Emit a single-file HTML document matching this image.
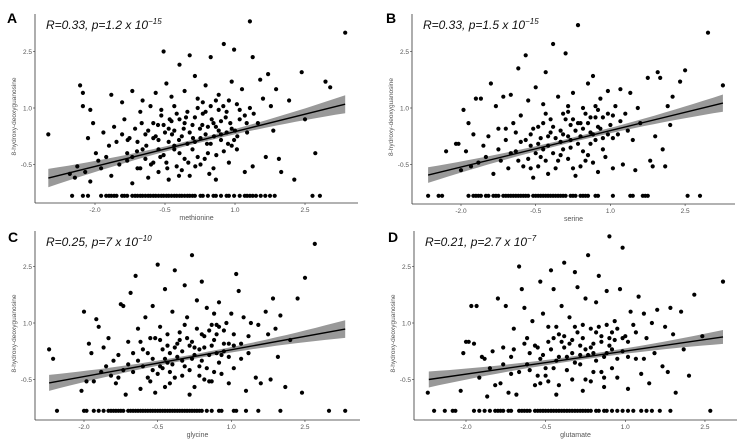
<!DOCTYPE html>
<html><head><meta charset="utf-8">
<style>
html,body{margin:0;padding:0;background:#fff;}
svg{display:block;font-family:"Liberation Sans",sans-serif;}
</style></head>
<body>
<svg id="fig" width="750" height="442" viewBox="0 0 750 442" xmlns="http://www.w3.org/2000/svg"></svg>
<script>
const xTicks = [-2.0, -0.5, 1.0, 2.5];
const yTicks = [2.5, 1.0, -0.5];
const zeroY = -1.33;

const labelsA = {letter:"A", xvar:"methionine", r:"0.33", p:"1.2", exp:"−15"};
const labelsB = {letter:"B", xvar:"serine", r:"0.33", p:"1.5", exp:"−15"};
const labelsC = {letter:"C", xvar:"glycine", r:"0.25", p:"7", exp:"−10"};
const labelsD = {letter:"D", xvar:"glutamate", r:"0.21", p:"2.7", exp:"−7"};

const fitA = [[-3.0,-0.86],[3.36,1.1]];
const fitB = [[-2.66,-0.78],[3.26,1.13]];
const fitC = [[-2.71,-0.59],[3.32,0.84]];
const fitD = [[-2.7,-0.5],[2.84,0.63]];

const pointsA = [[-3.0,0.3],[-2.54,-0.75],[-2.43,-0.85],[-2.38,-0.55],[-2.32,1.6],[-2.26,1.4],[-2.26,1.05],[-2.21,-0.7],[-2.15,0.2],[-2.1,0.95],[-2.1,-0.95],[-2.04,0.6],[-1.98,-0.2],[-1.93,-0.4],[-1.87,-0.6],[-1.82,0.35],[-1.76,-0.3],[-1.7,0.0],[-1.65,1.35],[-1.65,-0.8],[-1.59,0.5],[-1.54,0.1],[-1.48,-0.5],[-1.42,1.15],[-1.37,0.7],[-1.31,-0.2],[-1.26,0.2],[-1.2,1.45],[-1.2,-1.0],[-1.14,0.45],[-1.09,-0.6],[-1.03,0.9],[-0.98,1.2],[-0.98,-0.1],[-0.92,0.3],[-0.86,-0.85],[-0.81,1.05],[-0.75,0.6],[-0.75,-0.45],[-0.7,1.4],[-0.64,0.15],[-0.64,-0.7],[-0.58,0.8],[-0.53,2.5],[-0.53,-0.25],[-0.47,1.65],[-0.42,0.45],[-0.42,-0.9],[-0.36,1.3],[-0.3,0.0],[-0.3,1.05],[-0.25,-0.55],[-0.19,2.15],[-0.19,0.7],[-0.14,0.25],[-0.08,1.45],[-0.08,-0.35],[-0.02,0.9],[0.03,2.4],[0.03,-0.8],[0.09,0.55],[0.14,1.85],[0.14,0.1],[0.2,1.25],[0.26,-0.5],[0.31,0.85],[0.37,1.6],[0.37,0.3],[0.42,-0.2],[0.48,1.05],[0.48,2.35],[0.54,0.6],[0.59,-0.9],[0.65,1.35],[0.7,0.15],[0.76,2.7],[0.82,0.9],[0.87,-0.45],[0.93,1.7],[0.93,0.45],[0.98,2.55],[1.04,1.1],[1.04,-0.1],[1.1,0.7],[1.32,3.3],[1.15,1.5],[1.21,-0.7],[1.26,0.35],[1.32,1.0],[1.38,2.35],[1.38,-0.55],[1.49,0.6],[1.54,1.75],[1.6,1.25],[1.66,-0.3],[1.71,1.9],[1.77,1.05],[1.82,0.4],[1.88,1.5],[1.94,-0.35],[1.99,-0.7],[2.16,1.2],[2.27,-0.9],[2.43,1.95],[2.5,0.7],[3.04,1.55],[2.72,-0.2],[2.94,1.7],[3.36,3.0],
[-0.75,0.2],[-0.53,0.55],[-0.3,0.4],[-0.08,0.6],[0.14,0.75],[0.37,0.9],[0.59,0.5],[0.82,0.35],[-0.64,-0.1],[-0.42,0.1],[-0.19,-0.2],[0.03,0.35],[0.26,0.2],[0.48,0.05],[0.7,0.65],[-0.86,0.4],[-1.09,0.1],[-1.31,-0.4],[0.2,-0.3],[0.42,0.5],[0.65,0.95],[0.87,1.2],[-0.25,0.85],[-0.47,-0.45],[-0.92,-0.35],[-0.02,0.05],[0.54,-0.6],[0.98,0.15],[1.21,0.8],[-0.58,0.95],[-0.14,-0.65],[0.31,1.15],[0.76,-0.15],[-1.03,-0.6],[-1.42,0.3],[-1.2,-0.3],[0.09,-0.1],[0.59,1.2],[-0.36,0.65],[0.93,0.0],
[-0.9,0.0],[-0.7,0.25],[-0.5,0.35],[-0.3,-0.1],[-0.1,0.45],[0.1,0.2],[0.3,0.55],[0.5,0.7],[0.7,0.3],[0.9,0.6],[1.1,0.95],[-0.6,-0.3],[-0.4,0.7],[-0.2,0.15],[0.0,-0.45],[0.2,1.0],[0.4,0.05],[0.6,-0.25],[0.8,0.75],[1.0,0.4],[-1.0,0.6],[-0.8,-0.5],[-0.45,-0.6],[-0.05,0.75],[0.25,0.45],[0.55,0.25],[0.85,0.05],[1.25,0.6],[-1.3,0.15],[-0.2,-0.8],[0.45,-0.75],[0.75,1.05],[1.05,0.25],[-0.65,0.55],[0.15,-0.55],[-0.35,0.3],[0.65,0.4],[1.4,0.85],[-1.1,-0.15],[0.35,-0.35]];
const zerosA = [-2.49,-2.26,-2.15,-1.87,-1.76,-1.7,-1.65,-1.59,-1.54,-1.42,-1.37,-1.31,-1.2,-1.14,-1.09,-1.03,-0.98,-0.92,-0.86,-0.81,-0.75,-0.7,-0.64,-0.58,-0.53,-0.47,-0.42,-0.36,-0.3,-0.25,-0.19,-0.14,-0.08,-0.02,0.03,0.09,0.14,0.26,0.31,0.42,0.54,0.59,0.7,0.82,0.87,0.98,1.1,1.21,1.26,1.32,1.38,1.45,1.55,1.65,1.75,1.85,2.66,2.82];

const pointsB = [[-2.3,-0.15],[-2.1,0.05],[-2.05,0.05],[-2.0,-0.65],[-1.95,0.95],[-1.9,-0.15],[-1.85,0.6],[-1.8,-0.55],[-1.75,0.3],[-1.7,1.25],[-1.65,-0.45],[-1.6,1.25],[-1.55,0.0],[-1.5,-0.3],[-1.45,0.25],[-1.4,1.65],[-1.35,-0.75],[-1.3,1.05],[-1.25,0.45],[-1.2,-0.4],[-1.15,1.3],[-1.1,0.15],[-1.05,-0.6],[-1.0,1.35],[-0.95,0.6],[-0.9,-0.15],[-0.85,2.05],[-0.8,0.8],[-0.75,-0.55],[-0.7,2.4],[-0.65,1.2],[-0.6,0.3],[-0.55,-0.85],[-0.5,1.55],[-0.45,0.5],[-0.4,-0.3],[-0.35,1.1],[-0.3,1.95],[-0.25,0.0],[-0.2,0.7],[-0.15,2.7],[-0.1,-0.6],[-0.05,1.3],[0.0,0.4],[0.05,-0.1],[0.1,2.45],[0.15,0.9],[0.2,0.15],[0.25,1.4],[0.3,-0.8],[0.35,3.2],[0.4,0.6],[0.45,1.0],[0.5,-0.4],[0.55,1.65],[0.6,0.35],[0.65,1.85],[0.7,0.75],[0.75,-0.7],[0.8,1.25],[0.85,0.2],[0.9,-0.3],[0.95,1.45],[1.0,0.55],[1.05,-0.6],[1.1,1.05],[1.15,0.3],[1.2,1.5],[1.25,-0.5],[1.3,0.85],[1.4,1.4],[1.45,0.15],[1.5,-0.65],[1.55,1.0],[1.6,0.6],[1.75,1.8],[1.8,-0.4],[1.85,-0.55],[1.9,0.25],[1.95,1.95],[2.0,1.8],[2.05,-0.1],[2.1,-0.55],[2.15,1.05],[2.2,0.55],[2.25,1.3],[2.4,1.7],[2.5,2.0],[2.96,3.0],[3.26,1.6],
[-0.6,0.0],[-0.4,0.2],[-0.2,0.35],[0.0,0.1],[0.2,0.55],[0.4,0.25],[0.6,0.05],[0.8,0.45],[-0.5,-0.2],[-0.3,-0.4],[-0.1,0.2],[0.1,0.7],[0.3,0.4],[0.5,0.85],[0.7,0.15],[-0.8,0.1],[-1.0,-0.2],[-0.45,-0.55],[0.15,-0.35],[0.35,0.05],[0.55,0.6],[0.75,0.95],[-0.15,-0.2],[-0.65,-0.35],[0.05,0.85],[0.45,-0.15],[0.95,0.3],[-0.35,0.6],[0.25,-0.6],[0.65,-0.45],[-0.9,0.35],[0.85,0.75],[-0.25,-0.75],[0.15,0.25],[1.05,0.8],
[-0.7,0.15],[-0.55,0.45],[-0.35,-0.1],[-0.15,0.5],[0.05,0.3],[0.25,0.7],[0.45,0.45],[0.65,0.3],[0.85,-0.1],[1.05,0.2],[-0.45,0.05],[-0.25,0.25],[-0.05,-0.4],[0.15,1.05],[0.35,0.6],[0.55,-0.25],[0.75,0.5],[0.95,0.85],[-0.85,-0.4],[-1.1,0.45],[-0.6,-0.6],[0.0,-0.25],[0.4,-0.55],[0.7,1.05],[1.2,0.65],[-1.25,-0.1],[-0.3,0.85],[0.2,-0.05],[0.6,0.75],[1.35,0.4]];
const zerosB = [-2.66,-2.45,-2.38,-1.85,-1.75,-1.7,-1.65,-1.6,-1.5,-1.45,-1.35,-1.3,-1.25,-1.15,-1.1,-1.05,-1.0,-0.95,-0.9,-0.85,-0.8,-0.75,-0.7,-0.65,-0.55,-0.5,-0.45,-0.4,-0.35,-0.3,-0.25,-0.2,-0.15,-0.1,-0.05,0,0.05,0.1,0.2,0.25,0.3,0.4,0.45,0.5,0.55,0.7,0.75,1.05,1.4,1.45,1.65,1.7,1.75,2.55,2.8];

const pointsC = [[-2.71,0.3],[-2.63,0.05],[-2.05,-0.8],[-2.0,1.3],[-1.95,-0.55],[-1.9,0.45],[-1.85,0.2],[-1.8,-0.55],[-1.75,1.1],[-1.7,0.9],[-1.65,-0.3],[-1.6,0.35],[-1.55,-0.15],[-1.5,0.6],[-1.45,-0.4],[-1.4,0.0],[-1.35,-0.6],[-1.3,0.15],[-1.25,1.5],[-1.2,1.45],[-1.15,-0.9],[-1.1,0.5],[-1.05,1.8],[-1.0,-0.3],[-0.95,2.25],[-0.9,0.85],[-0.85,-0.75],[-0.8,0.3],[-0.75,1.15],[-0.7,-0.45],[-0.65,0.6],[-0.6,1.45],[-0.55,-0.85],[-0.5,2.55],[-0.45,0.9],[-0.4,-0.2],[-0.35,1.9],[-0.3,0.4],[-0.25,-0.6],[-0.2,1.3],[-0.15,2.4],[-0.1,0.1],[-0.05,0.75],[0.0,-0.4],[0.05,2.0],[0.1,1.15],[0.15,-0.9],[0.2,2.8],[0.25,0.35],[0.3,1.6],[0.35,-0.15],[0.4,2.1],[0.45,0.65],[0.5,1.4],[0.55,-0.55],[0.6,0.95],[0.65,1.25],[0.7,0.2],[0.75,1.55],[0.8,-0.35],[0.85,0.8],[0.9,1.0],[0.95,-0.6],[1.0,1.25],[1.05,0.4],[1.1,2.3],[1.15,1.85],[1.2,0.05],[1.25,1.15],[1.3,-0.8],[1.35,0.65],[1.4,1.0],[1.5,-0.45],[1.55,0.95],[1.6,-0.6],[1.7,1.3],[1.75,0.7],[1.8,-0.5],[1.85,1.65],[1.9,0.85],[1.95,0.1],[2.0,1.2],[2.1,-0.7],[2.2,0.55],[2.35,1.65],[2.44,-0.85],[2.5,2.2],[2.7,3.1],
[-0.6,0.05],[-0.4,0.3],[-0.2,-0.1],[0.0,0.25],[0.2,0.5],[0.4,0.0],[0.6,0.4],[0.8,0.15],[-0.5,-0.35],[-0.3,-0.05],[-0.1,0.45],[0.1,0.6],[0.3,0.85],[0.5,-0.2],[0.7,0.7],[-0.8,-0.15],[-1.0,0.2],[-0.45,0.55],[0.15,-0.25],[0.35,0.3],[0.55,0.15],[0.75,0.9],[-0.15,-0.45],[-0.65,-0.55],[0.05,0.95],[0.45,-0.5],[0.95,0.45],[-0.35,-0.7],[0.25,-0.7],[0.65,-0.3],[-0.9,0.0],[0.85,0.45],[-0.25,0.2],[1.05,-0.2],[-1.2,-0.25],
[-0.7,0.2],[-0.55,0.6],[-0.35,0.05],[-0.15,0.35],[0.05,-0.15],[0.25,0.15],[0.45,0.35],[0.65,0.55],[0.85,0.25],[1.05,0.7],[-0.45,-0.15],[-0.25,-0.3],[-0.05,0.55],[0.15,0.4],[0.35,-0.4],[0.55,0.8],[0.75,-0.05],[0.95,0.1],[-0.85,0.5],[-1.1,-0.1],[-0.6,-0.25],[0.0,0.0],[0.4,0.7],[0.7,0.95],[1.2,0.45],[-1.3,-0.45],[-0.3,0.7],[0.2,0.05],[0.6,-0.55],[1.35,0.2]];
const zerosC = [-2.55,-2.0,-1.95,-1.8,-1.7,-1.6,-1.5,-1.45,-1.4,-1.35,-1.3,-1.25,-1.2,-1.1,-1.05,-1.0,-0.95,-0.9,-0.85,-0.8,-0.75,-0.7,-0.65,-0.6,-0.55,-0.5,-0.45,-0.4,-0.35,-0.3,-0.25,-0.2,-0.15,-0.1,-0.05,0,0.05,0.1,0.15,0.2,0.25,0.3,0.35,0.4,0.5,0.6,0.75,0.8,1.05,1.1,1.3,1.55,2.0,2.99,3.32];

const pointsD = [[-2.72,-0.85],[-2.1,-0.8],[-2.05,0.2],[-2.0,0.5],[-1.95,0.5],[-1.9,1.45],[-1.85,0.45],[-1.8,1.45],[-1.75,-0.45],[-1.7,0.1],[-1.65,0.05],[-1.6,-0.95],[-1.55,-0.2],[-1.5,0.25],[-1.45,-0.65],[-1.4,1.65],[-1.35,-0.6],[-1.3,-0.1],[-1.25,1.45],[-1.2,-0.85],[-1.15,0.1],[-1.1,0.85],[-1.05,-0.9],[-1.0,2.5],[-0.95,1.9],[-0.9,1.4],[-0.85,0.6],[-0.8,-0.25],[-0.75,1.05],[-0.7,-0.65],[-0.65,0.35],[-0.6,2.1],[-0.55,1.25],[-0.5,-0.4],[-0.45,0.9],[-0.4,2.4],[-0.35,1.9],[-0.3,-0.9],[-0.25,0.7],[-0.2,1.45],[-0.15,2.6],[-0.1,0.1],[-0.05,1.15],[0.0,-0.5],[0.05,2.35],[0.1,1.95],[0.15,0.4],[0.2,-0.8],[0.25,1.65],[0.3,2.8],[0.35,0.85],[0.4,-0.3],[0.45,1.55],[0.5,2.25],[0.55,0.5],[0.6,-0.7],[0.65,1.85],[0.7,3.3],[0.75,0.3],[0.8,1.05],[0.85,-0.45],[0.9,1.9],[0.95,3.0],[1.0,0.65],[1.05,-0.75],[1.1,1.3],[1.15,0.95],[1.2,0.05],[1.25,1.7],[1.3,-0.35],[1.35,1.25],[1.4,0.6],[1.45,-0.6],[1.5,1.0],[1.55,0.2],[1.6,1.35],[1.7,-0.15],[1.75,0.9],[1.8,-0.3],[1.85,1.4],[1.9,0.7],[1.95,-0.85],[2.05,1.3],[2.1,0.3],[2.2,-0.4],[2.3,1.75],[2.45,0.65],[2.84,2.1],
[-0.6,0.05],[-0.4,0.3],[-0.2,0.5],[0.0,0.2],[0.2,0.6],[0.4,0.45],[0.6,0.1],[0.8,0.55],[-0.5,-0.2],[-0.3,0.0],[-0.1,-0.25],[0.1,0.75],[0.3,0.15],[0.5,0.9],[0.7,0.4],[-0.8,0.2],[-1.0,-0.3],[-0.45,-0.55],[0.15,-0.1],[0.35,0.35],[0.55,-0.3],[0.75,0.75],[-0.15,0.35],[-0.65,-0.4],[0.05,0.9],[0.45,0.0],[0.95,0.25],[-0.35,0.6],[0.25,-0.5],[0.65,0.95],[-0.9,0.45],[0.85,0.05],[-0.25,-0.65],[1.05,0.5],[-1.15,-0.35],
[-0.7,0.4],[-0.55,0.15],[-0.35,-0.2],[-0.15,0.65],[0.05,-0.05],[0.25,0.3],[0.45,0.75],[0.65,0.2],[0.85,0.85],[1.05,0.1],[-0.45,0.5],[-0.25,0.1],[-0.05,0.45],[0.15,0.15],[0.35,-0.55],[0.55,0.65],[0.75,-0.2],[0.95,0.6],[-0.85,-0.1],[-1.1,0.3],[-0.6,-0.6],[0.0,0.55],[0.4,0.2],[0.7,0.6],[1.2,0.75],[-1.3,0.35],[-0.3,0.9],[0.2,0.95],[0.6,-0.45],[1.35,0.05]];
const zerosD = [-2.6,-2.4,-2.25,-2.2,-1.85,-1.75,-1.65,-1.55,-1.45,-1.4,-1.35,-1.3,-1.2,-1.15,-1.0,-0.95,-0.9,-0.85,-0.8,-0.7,-0.65,-0.6,-0.55,-0.5,-0.45,-0.4,-0.35,-0.3,-0.25,-0.2,-0.15,-0.1,-0.05,0,0.05,0.1,0.15,0.2,0.25,0.3,0.35,0.45,0.5,0.6,0.65,0.75,0.85,0.95,1.05,1.15,1.3,1.4,1.5,1.65,1.85,2.6];

const NS = "http://www.w3.org/2000/svg";
const svg = document.getElementById("fig");
function mk(tag, attrs, parent){
  const e = document.createElementNS(NS, tag);
  for (const k in attrs) e.setAttribute(k, attrs[k]);
  (parent||svg).appendChild(e);
  return e;
}

const panels = [
  {lab:labelsA, fit:fitA, pts:pointsA, zeros:zerosA, geo:{left:35, top:14, bottom:203, right:358, x0:95, xs:46.67, y1:108, ys:37.67, lx:7, ly:23, ty:29}},
  {lab:labelsB, fit:fitB, pts:pointsB, zeros:zerosB, geo:{left:412, top:14, bottom:204, right:735, x0:461, xs:49.8, y1:108, ys:37.67, lx:386, ly:23, ty:29}},
  {lab:labelsC, fit:fitC, pts:pointsC, zeros:zerosC, geo:{left:35, top:231, bottom:420, right:360, x0:84, xs:49.1, y1:323, ys:37.67, lx:8, ly:242, ty:246}},
  {lab:labelsD, fit:fitD, pts:pointsD, zeros:zerosD, geo:{left:414, top:231, bottom:420, right:737, x0:466, xs:53.1, y1:323, ys:37.67, lx:388, ly:242, ty:246}}
];

panels.forEach(function(P){
  const g = P.geo;
  const xS = v => g.x0 + (v + 2) * g.xs;
  const yS = v => g.y1 - (v - 1) * g.ys;
  const grp = mk("g", {});
  
  

  const [a, b] = P.fit;
  const slope = (b[1] - a[1]) / (b[0] - a[0]);
  const xm = 0.2;
  const top = [], bot = [];
  for (let i = 0; i <= 30; i++) {
    const xv = a[0] + (b[0] - a[0]) * i / 30;
    const yv = a[1] + slope * (xv - a[0]);
    const d = Math.abs(xv - xm);
    const w = 0.06 + 0.018 * d * d;
    top.push(xS(xv).toFixed(1) + "," + yS(yv + w).toFixed(1));
    bot.unshift(xS(xv).toFixed(1) + "," + yS(yv - w).toFixed(1));
  }
  const band = mk("polygon", {points: top.concat(bot).join(" "), fill:"#999"}, grp);
  
  

  P.pts.forEach(function(p){
    const c = mk("circle", {cx:xS(p[0]).toFixed(1), cy:yS(p[1]).toFixed(1), r:2.1, fill:"#000"}, grp);
    
    
  });
  P.zeros.forEach(function(x){
    const c = mk("circle", {cx:xS(x).toFixed(1), cy:yS(zeroY).toFixed(1), r:2.1, fill:"#000"}, grp);
    
    
  });

  const ln = mk("line", {x1:xS(a[0]), y1:yS(a[1]), x2:xS(b[0]), y2:yS(b[1]), stroke:"#000", "stroke-width":1.4}, grp);
  
  

  const ya = mk("line", {x1:g.left, y1:g.top, x2:g.left, y2:g.bottom, stroke:"#333", "stroke-width":0.8}, grp);
  
  
  const xa = mk("line", {x1:g.left, y1:g.bottom, x2:g.right, y2:g.bottom, stroke:"#333", "stroke-width":0.8}, grp);
  
  

  xTicks.forEach(function(t){
    const x = xS(t);
    mk("line", {x1:x, y1:g.bottom, x2:x, y2:g.bottom + 2, stroke:"#333", "stroke-width":0.6}, grp);
    const tx = mk("text", {x:x, y:g.bottom + 9, "font-size":6.5, fill:"#555", "text-anchor":"middle"}, grp);
    tx.textContent = t.toFixed(1);
    
    
  });
  yTicks.forEach(function(t){
    const y = yS(t);
    mk("line", {x1:g.left - 2, y1:y, x2:g.left, y2:y, stroke:"#333", "stroke-width":0.6}, grp);
    const tx = mk("text", {x:g.left - 3, y:y + 2.3, "font-size":6.5, fill:"#555", "text-anchor":"end"}, grp);
    tx.textContent = t.toFixed(1);
    
    
  });

  const xl = mk("text", {x:(g.left + g.right) / 2, y:g.bottom + 17, "font-size":7, fill:"#555", "text-anchor":"middle"}, grp);
  xl.textContent = P.lab.xvar;
  
  

  const ymid = (g.top + g.bottom) / 2 + 8;
  const yl = mk("text", {x:0, y:0, "font-size":6.5, fill:"#555", "text-anchor":"middle", transform:"translate(" + (g.left - 19) + "," + ymid + ") rotate(-90)"}, grp);
  yl.textContent = "8-hydroxy-deoxyguanosine";
  
  

  const le = mk("text", {x:g.lx, y:g.ly, "font-size":14, "font-weight":"bold", fill:"#000"}, grp);
  le.textContent = P.lab.letter;
  
  

  const ti = mk("text", {x:g.left + 11, y:g.ty, "font-size":12, "font-style":"italic", fill:"#111"}, grp);
  
  
  const s1 = mk("tspan", {}, ti);
  s1.textContent = "R=" + P.lab.r + ", p=" + P.lab.p + " x 10";
  const s2 = mk("tspan", {dy:-5, "font-size":8}, ti);
  s2.textContent = P.lab.exp;
});
</script>
</body></html>
